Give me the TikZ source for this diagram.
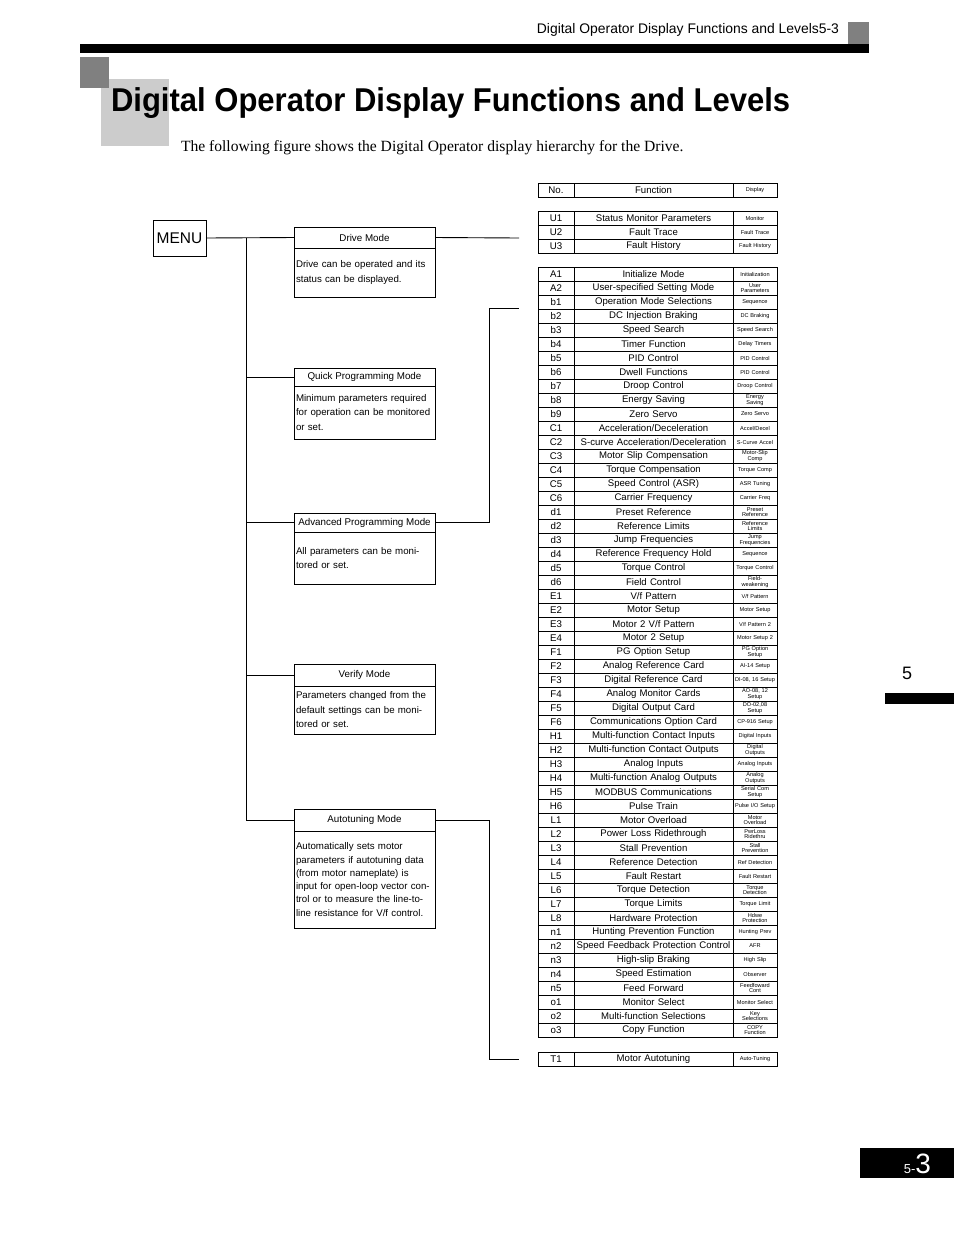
\documentclass[tikz,border=0pt]{standalone}
\usepackage{fontspec}
\setmainfont{Liberation Sans}
\newfontfamily\timesfont{Liberation Serif}
\usetikzlibrary{positioning}

\begin{document}
\begin{tikzpicture}[x=1pt, y=-1pt,
  every node/.style={inner sep=0pt, outer sep=0pt},
  cell/.style={draw, line width=0.8pt, minimum height=14pt, align=center, anchor=north west},
  nocell/.style={cell, text width=36pt, font=\fontsize{9.7}{10}\selectfont},
  fncell/.style={cell, text width=159pt, font=\fontsize{9.6}{10}\selectfont},
  dpcell/.style={cell, text width=44pt, font=\fontsize{5.6}{5.4}\selectfont},
  modetitle/.style={draw, line width=0.8pt, minimum width=141pt, anchor=north west, font=\fontsize{9.8}{11}\selectfont},
  modebody/.style={draw, line width=0.8pt, text width=137pt, inner xsep=2pt, align=left, font=\fontsize{9.7}{14.5}\selectfont},
  link/.style={line width=0.9pt},
]
  \useasboundingbox (0,0) rectangle (954,1235);
  % running head and title
  \fill[black!50] (848,22) rectangle (869,44);
  \fill (80,44) rectangle (869,53);
  \node[anchor=base east, font=\fontsize{13.9}{15}\selectfont] (runhead) at (839,33) {Digital Operator Display Functions and Levels5-3};
  \fill[black!20] (101,79) rectangle (169,146);
  \fill[black!50] (80,57) rectangle (109,88);
  \node[anchor=base west, xscale=0.94, font=\bfseries\fontsize{33}{36}\selectfont] (title) at (111,111) {Digital Operator Display Functions and Levels};
  \node[anchor=base west, font=\timesfont\fontsize{15.6}{18}\selectfont] (intro) at (181,151) {The following figure shows the Digital Operator display hierarchy for the Drive.};

  % modes
  \node[draw, line width=0.8pt, minimum width=53pt, minimum height=36pt, anchor=north west, font=\fontsize{15.5}{18}\selectfont] (menu) at (153,220) {MENU};
  \node[modetitle, minimum height=21pt] (drive) at (294,227) {Drive Mode};
  \node[modebody, minimum height=49pt, below=0pt of drive] (drivetxt) {Drive can be operated and its\\status can be displayed.};
  \node[modetitle, minimum height=18pt] (quick) at (294,368) {Quick Programming Mode};
  \node[modebody, minimum height=53pt, below=0pt of quick] (quicktxt) {Minimum parameters required\\for operation can be monitored\\or set.};
  \node[modetitle, minimum height=19pt] (adv) at (294,513) {Advanced Programming Mode};
  \node[modebody, minimum height=52pt, below=0pt of adv] (advtxt) {All parameters can be moni-\\tored or set.};
  \node[modetitle, minimum height=22pt] (verify) at (294,664) {Verify Mode};
  \node[modebody, minimum height=48pt, below=0pt of verify] (verifytxt) {Parameters changed from the\\default settings can be moni-\\tored or set.};
  \node[modetitle, minimum height=22pt] (autot) at (294,809) {Autotuning Mode};
  \node[modebody, minimum height=97pt, below=0pt of autot, font=\fontsize{9.7}{13.3}\selectfont] (autottxt) {Automatically sets motor\\parameters if autotuning data\\(from motor nameplate) is\\input for open-loop vector con-\\trol or to measure the line-to-\\line resistance for V/f control.};

  \coordinate (trunk) at (246,238);
  \coordinate (uend) at (519,238);
  \coordinate (aend) at (519,308);
  \coordinate (tend) at (519,1059);
  \draw[link] (menu.east) -- (drive.west);
  \foreach \m in {quick,adv,verify,autot}\draw[link] (trunk) |- (\m.west);
  \draw[link] (drive.east) -- (uend);
  \draw[link] (adv.east) -- ++(54,0) |- (aend);
  \draw[link] (autot.east) -- ++(54,0) |- (tend);

  % parameter tables
  \node[nocell] (nohead) at (538,183) {No.};
  \node[fncell, right=0pt of nohead] (fnhead) {Function};
  \node[dpcell, right=0pt of fnhead] (dphead) {Display};
  \foreach \pno/\pfn/\pdp [count=\i from 0] in {U1/Status Monitor Parameters/Monitor, U2/Fault Trace/Fault Trace, U3/Fault History/Fault History}{
    \node[nocell] (no\pno) at (538,211+14*\i) {\pno};
    \node[fncell, right=0pt of no\pno] (fn\pno) {\pfn};
    \node[dpcell, right=0pt of fn\pno] (dp\pno) {\pdp};
  }
  \foreach \pno/\pfn/\pdp [count=\i from 0] in {
    A1/Initialize Mode/Initialization, A2/User-specified Setting Mode/User\\Parameters,
    b1/Operation Mode Selections/Sequence, b2/DC Injection Braking/DC Braking,
    b3/Speed Search/Speed Search, b4/Timer Function/Delay Timers,
    b5/PID Control/PID Control, b6/Dwell Functions/PID Control,
    b7/Droop Control/Droop Control, b8/Energy Saving/Energy\\Saving,
    b9/Zero Servo/Zero Servo, C1/{Acceleration/Deceleration}/{Accel/Decel},
    C2/{S-curve Acceleration/Deceleration}/S-Curve Accel, C3/Motor Slip Compensation/Motor-Slip\\Comp,
    C4/Torque Compensation/Torque Comp, C5/Speed Control (ASR)/ASR Tuning,
    C6/Carrier Frequency/Carrier Freq, d1/Preset Reference/Preset\\Reference,
    d2/Reference Limits/Reference\\Limits, d3/Jump Frequencies/Jump\\Frequencies,
    d4/Reference Frequency Hold/Sequence, d5/Torque Control/Torque Control,
    d6/Field Control/Field-\\weakening, E1/{V/f Pattern}/{V/f Pattern},
    E2/Motor Setup/Motor Setup, E3/{Motor 2 V/f Pattern}/{V/f Pattern 2},
    E4/Motor 2 Setup/Motor Setup 2, F1/PG Option Setup/PG Option\\Setup,
    F2/Analog Reference Card/AI-14 Setup, F3/Digital Reference Card/{DI-08, 16 Setup},
    F4/Analog Monitor Cards/{AO-08, 12\\Setup}, F5/Digital Output Card/{DO-02,08\\Setup},
    F6/Communications Option Card/CP-916 Setup, H1/Multi-function Contact Inputs/Digital Inputs,
    H2/Multi-function Contact Outputs/Digital\\Outputs, H3/Analog Inputs/Analog Inputs,
    H4/Multi-function Analog Outputs/Analog\\Outputs, H5/MODBUS Communications/Serial Com\\Setup,
    H6/Pulse Train/{Pulse I/O Setup}, L1/Motor Overload/Motor\\Overload,
    L2/Power Loss Ridethrough/PwrLoss\\Ridethru, L3/Stall Prevention/Stall\\Prevention,
    L4/Reference Detection/Ref Detection, L5/Fault Restart/Fault Restart,
    L6/Torque Detection/Torque\\Detection, L7/Torque Limits/Torque Limit,
    L8/Hardware Protection/Hdwe\\Protection, n1/Hunting Prevention Function/Hunting Prev,
    n2/Speed Feedback Protection Control/AFR, n3/High-slip Braking/High Slip,
    n4/Speed Estimation/Observer, n5/Feed Forward/Feedfoward\\Cont,
    o1/Monitor Select/Monitor Select, o2/Multi-function Selections/Key\\Selections,
    o3/Copy Function/COPY\\Function}{
    \node[nocell] (no\pno) at (538,267+14*\i) {\pno};
    \node[fncell, right=0pt of no\pno] (fn\pno) {\pfn};
    \node[dpcell, right=0pt of fn\pno] (dp\pno) {\pdp};
  }
  \node[nocell] (noT1) at (538,1052) {T1};
  \node[fncell, right=0pt of noT1] (fnT1) {Motor Autotuning};
  \node[dpcell, right=0pt of fnT1] (dpT1) {Auto-Tuning};

  % chapter tab and page number
  \node[font=\fontsize{18}{20}\selectfont] (chap) at (907,673) {5};
  \fill (885,693) rectangle (954,704);
  \fill (860,1148) rectangle (954,1178);
  \node[anchor=base east, text=white] (pageno) at (931,1173) {{\fontsize{13}{14}\selectfont 5-}{\fontsize{28}{30}\selectfont 3}};
\end{tikzpicture}
\end{document}
